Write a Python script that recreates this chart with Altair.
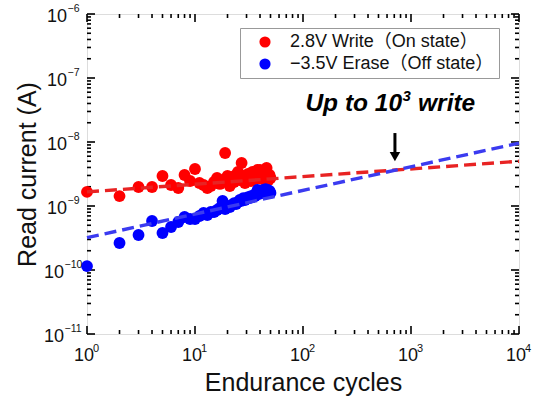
import altair as alt
import pandas as pd

# Endurance test: read current after each write / erase cycle
cycles = list(range(1, 51))
on_current = [
    1.66e-9, 1.43e-9, 1.98e-9, 1.98e-9, 2.94e-9, 2.13e-9, 1.91e-9, 3.05e-9, 2.46e-9, 3.79e-9,
    2.29e-9, 2.13e-9, 1.91e-9, 2.05e-9, 2.37e-9, 2.74e-9, 2.21e-9, 2.55e-9, 6.73e-9, 2.94e-9,
    2.05e-9, 2.84e-9, 2.37e-9, 3.05e-9, 3.40e-9, 2.55e-9, 4.70e-9, 2.94e-9, 2.29e-9, 2.74e-9,
    3.16e-9, 2.84e-9, 2.46e-9, 3.40e-9, 2.94e-9, 2.64e-9, 3.16e-9, 3.65e-9, 2.94e-9, 3.65e-9,
    3.05e-9, 2.64e-9, 3.40e-9, 2.84e-9, 3.16e-9, 3.92e-9, 2.84e-9, 2.55e-9, 3.05e-9, 2.74e-9,
]
off_current = [
    1.15e-10, 2.64e-10, 3.52e-10, 5.83e-10, 3.79e-10, 4.70e-10, 5.62e-10, 6.73e-10, 6.27e-10, 6.27e-10,
    6.98e-10, 7.78e-10, 7.23e-10, 8.06e-10, 8.06e-10, 8.66e-10, 9.31e-10, 1.20e-9, 8.98e-10, 1.00e-9,
    9.65e-10, 1.04e-9, 1.11e-9, 1.07e-9, 1.15e-9, 1.24e-9, 1.20e-9, 1.33e-9, 1.24e-9, 1.29e-9,
    1.38e-9, 1.33e-9, 1.43e-9, 1.38e-9, 1.48e-9, 1.43e-9, 1.60e-9, 1.78e-9, 1.54e-9, 1.66e-9,
    1.72e-9, 1.60e-9, 1.78e-9, 1.66e-9, 1.84e-9, 1.72e-9, 1.78e-9, 1.66e-9, 1.72e-9, 1.60e-9,
]

# Extrapolated trend lines (end points)
fit_cycles = [1, 10000]
on_fit = [1.66e-9, 5.0e-9]
off_fit = [3.2e-10, 9.6e-9]

series = ["2.8V Write\uff08On state\uff09", "\u22123.5V Erase\uff08Off state\uff09"]
point_colors = ["#ff0000", "#0000ff"]
line_colors = ["#e82323", "#3b3bf0"]

# Annotation: "Up to 10^3 write"
note_head = "Up to 10"
note_power = "3"
note_tail = "write"
note_cycle = 640
note_current = 3.9e-8
arrow_cycle = 710
arrow_top = 1.38e-8
arrow_bottom = 6.6e-9
arrow_head = 5.9e-9

# Decade tick labels: base "10" plus a raised exponent
x_exps = [0, 1, 2, 3, 4]
x_exp_text = ["0", "1", "2", "3", "4"]
y_exps = [-11, -10, -9, -8, -7, -6]
y_exp_text = ["\u221211", "\u221210", "\u22129", "\u22128", "\u22127", "\u22126"]

x_major = [10.0 ** e for e in x_exps]
y_major = [10.0 ** e for e in y_exps]
x_minor = [m * 10.0 ** e for e in x_exps[:-1] for m in range(2, 10)]
y_minor = [m * 10.0 ** e for e in y_exps[:-1] for m in range(2, 10)]

W, H = 432, 320
FONT = "Liberation Sans, Noto Sans CJK JP"
INK = "#111111"

x_scale = alt.Scale(type="log", domain=[1, 1e4], nice=False)
y_scale = alt.Scale(type="log", domain=[1e-11, 1e-6], nice=False)

x_axis = alt.Axis(labels=False, ticks=False, domain=False, grid=False,
                  title="Endurance cycles", titleFontSize=25, titleFontWeight="normal",
                  titlePadding=36, titleFont=FONT, titleColor=INK)
y_axis = alt.Axis(labels=False, ticks=False, domain=False, grid=False,
                  title="Read current (A)", titleFontSize=25, titleFontWeight="normal",
                  titlePadding=47, titleFont=FONT, titleColor=INK)

points_df = pd.DataFrame({
    "cycle": cycles * 2,
    "current": on_current + off_current,
    "state": [series[0]] * len(cycles) + [series[1]] * len(cycles),
})

points = alt.Chart(points_df).mark_circle(size=140, opacity=1).encode(
    x=alt.X("cycle:Q", scale=x_scale, axis=x_axis),
    y=alt.Y("current:Q", scale=y_scale, axis=y_axis),
    color=alt.Color("state:N", scale=alt.Scale(domain=series, range=point_colors),
                    legend=alt.Legend(title=None, orient="none", legendX=153, legendY=14,
                                      fillColor="white", strokeColor="#999", padding=5,
                                      symbolType="circle", symbolSize=125, symbolOffset=11,
                                      labelFontSize=18, labelFont=FONT, labelColor=INK,
                                      labelOffset=16, rowPadding=4, labelLimit=400)),
)


def fit_line(values, color):
    df = pd.DataFrame({"cycle": fit_cycles, "current": values})
    return alt.Chart(df).mark_line(color=color, strokeWidth=3.4, strokeDash=[12, 6]).encode(
        x=alt.X("cycle:Q", scale=x_scale),
        y=alt.Y("current:Q", scale=y_scale),
    )


lines = fit_line(on_fit, line_colors[0]) + fit_line(off_fit, line_colors[1])


def x_ticks(vals, length, side):
    df = pd.DataFrame({"v": vals})
    y0, y1 = (H, H - length) if side == "bottom" else (0, length)
    return alt.Chart(df).mark_rule(color="black", strokeWidth=1.6).encode(
        x=alt.X("v:Q", scale=x_scale), y=alt.value(y0), y2=alt.value(y1))


def y_ticks(vals, length, side):
    df = pd.DataFrame({"v": vals})
    x0, x1 = (0, length) if side == "left" else (W, W - length)
    return alt.Chart(df).mark_rule(color="black", strokeWidth=1.6).encode(
        y=alt.Y("v:Q", scale=y_scale), x=alt.value(x0), x2=alt.value(x1))


ticks = (
    x_ticks(x_major, 8, "bottom") + x_ticks(x_minor, 4, "bottom")
    + x_ticks(x_major, 8, "top") + x_ticks(x_minor, 4, "top")
    + y_ticks(y_major, 8, "left") + y_ticks(y_minor, 4, "left")
    + y_ticks(y_major, 8, "right") + y_ticks(y_minor, 4, "right")
)

# x tick labels
xl_df = pd.DataFrame({"v": x_major, "exp": x_exp_text})
x_base = alt.Chart(xl_df).mark_text(fontSize=18, font=FONT, color=INK, align="center",
                                    baseline="middle", dx=-3).encode(
    x=alt.X("v:Q", scale=x_scale), y=alt.value(H + 22), text=alt.value("10"))
x_sup = alt.Chart(xl_df).mark_text(fontSize=11, font=FONT, color=INK, align="left",
                                   baseline="middle", dx=6, dy=-7).encode(
    x=alt.X("v:Q", scale=x_scale), y=alt.value(H + 22), text="exp:N")

# y tick labels (two-digit exponents need a little more room)
yl_df = pd.DataFrame({"v": y_major, "exp": y_exp_text,
                      "wide": [len(t) > 2 for t in y_exp_text]})


def y_labels(wide, edge):
    sub = yl_df[yl_df["wide"] == wide]
    base = alt.Chart(sub).mark_text(fontSize=18, font=FONT, color=INK, align="right",
                                    baseline="middle", dy=3).encode(
        y=alt.Y("v:Q", scale=y_scale), x=alt.value(edge), text=alt.value("10"))
    exp = alt.Chart(sub).mark_text(fontSize=10.5, font=FONT, color=INK, align="left",
                                   baseline="middle", dx=0.5, dy=-5).encode(
        y=alt.Y("v:Q", scale=y_scale), x=alt.value(edge), text="exp:N")
    return base + exp


y_tick_labels = y_labels(False, -20) + y_labels(True, -23)

# Annotation text in three pieces so the power sits raised
note_df = pd.DataFrame({"cycle": [note_cycle], "current": [note_current],
                        "head": [note_head], "power": [note_power], "tail": [note_tail]})
note_style = dict(fontWeight="bold", fontStyle="italic", font="Liberation Sans",
                  color="black", baseline="middle")
note_enc = dict(x=alt.X("cycle:Q", scale=x_scale), y=alt.Y("current:Q", scale=y_scale))
note_1 = alt.Chart(note_df).mark_text(fontSize=24.5, align="right", dx=12,
                                      **note_style).encode(text="head:N", **note_enc)
note_2 = alt.Chart(note_df).mark_text(fontSize=15, align="left", dx=12.5, dy=-8,
                                      **note_style).encode(text="power:N", **note_enc)
note_3 = alt.Chart(note_df).mark_text(fontSize=24.5, align="left", dx=28,
                                      **note_style).encode(text="tail:N", **note_enc)

arrow_df = pd.DataFrame({"cycle": [arrow_cycle], "top": [arrow_top], "bottom": [arrow_bottom],
                         "head": [arrow_head]})
arrow_shaft = alt.Chart(arrow_df).mark_rule(color="black", strokeWidth=3).encode(
    x=alt.X("cycle:Q", scale=x_scale), y=alt.Y("top:Q", scale=y_scale), y2="bottom:Q")
arrow_tip = alt.Chart(arrow_df).mark_point(shape="triangle-down", filled=True, size=110,
                                           color="black", opacity=1).encode(
    x=alt.X("cycle:Q", scale=x_scale), y=alt.Y("head:Q", scale=y_scale))

chart = alt.layer(ticks, points, lines, x_base, x_sup, y_tick_labels, note_1, note_2, note_3,
                  arrow_shaft, arrow_tip).properties(
    width=W, height=H,
    autosize=alt.AutoSizeParams(type="none"),
    padding={"left": 87, "top": 14, "right": 19, "bottom": 65},
).configure_view(stroke="black", strokeWidth=2).configure(background="white")

chart.save("out.html", embed_options={"renderer": "svg", "actions": False})
